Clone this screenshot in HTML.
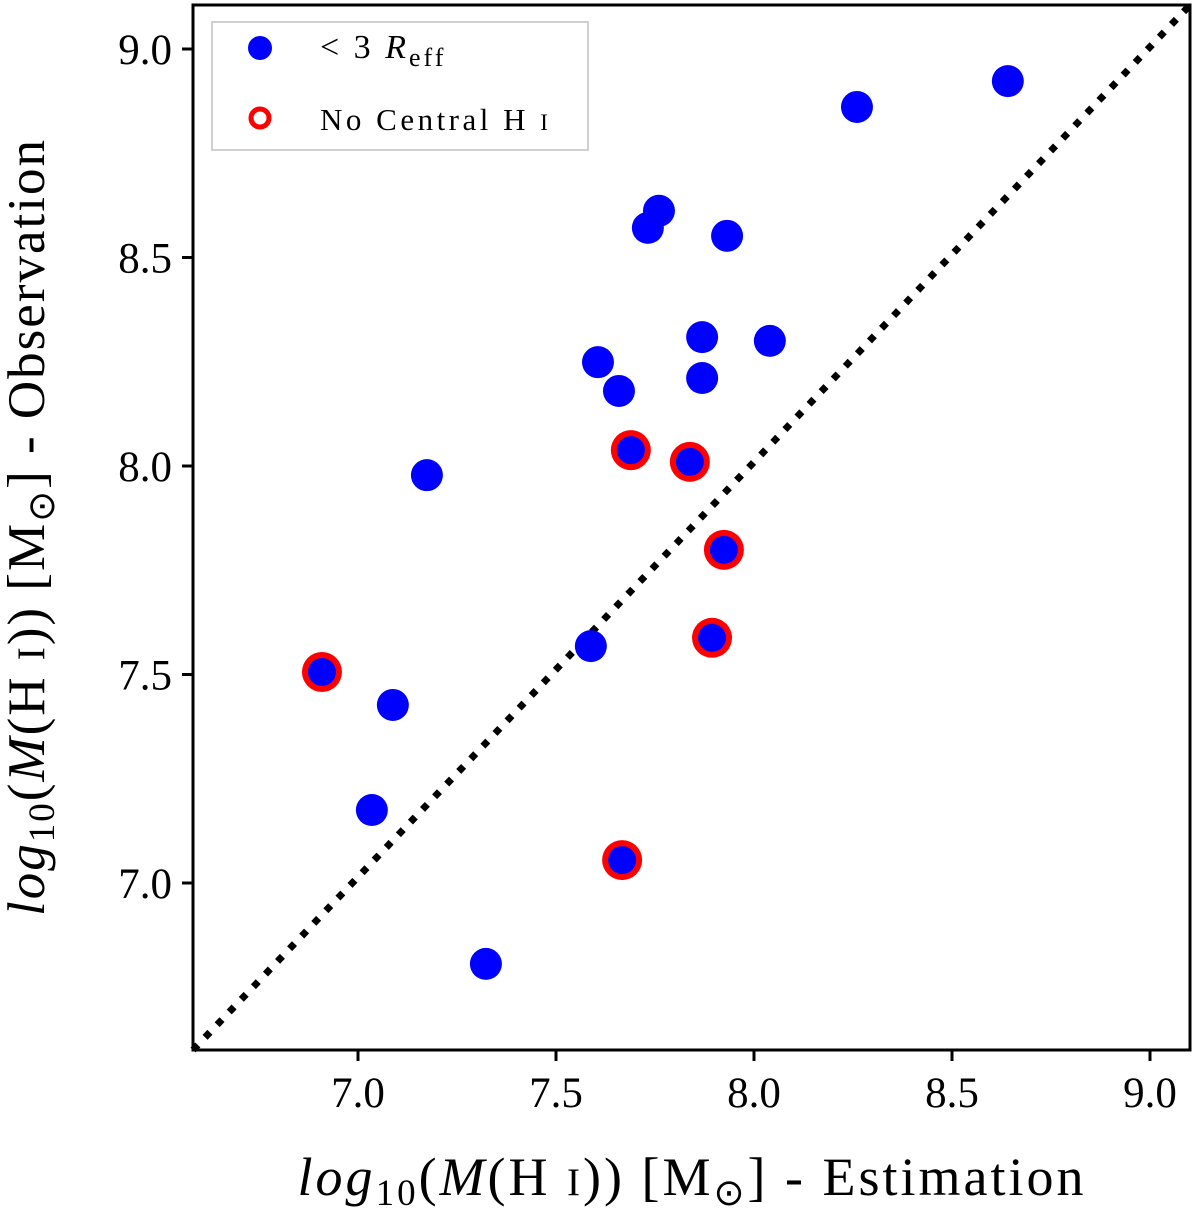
<!DOCTYPE html>
<html><head><meta charset="utf-8"><style>
body{margin:0;background:#fff}
svg{display:block;font-family:"Liberation Serif",serif}
</style></head><body>
<svg id="chart" width="1200" height="1209" viewBox="0 0 1200 1209">
<g id="ticks"></g>
<line x1="193" y1="1050" x2="1190" y2="5" stroke="#000" stroke-width="7" stroke-dasharray="7,10.5"/>
<g id="points"></g>
<rect x="193" y="5" width="997" height="1045" fill="none" stroke="#000" stroke-width="3"/>
<g>
<rect x="212" y="22" width="376" height="128" fill="#fff" stroke="#ccc" stroke-width="2" opacity="0.9"/>
<circle cx="260" cy="48" r="12" fill="#0000ff"/>
<text x="320" y="58" font-size="34" letter-spacing="3">&lt; 3 <tspan font-style="italic">R</tspan><tspan font-size="26" dy="8">eff</tspan></text>
<circle cx="260" cy="118" r="9" fill="none" stroke="#ff0000" stroke-width="5"/>
<text x="320" y="130" font-size="31" letter-spacing="3.5">No Central H <tspan font-size="23">I</tspan></text>
</g>
<text x="692" y="1195" font-size="54" letter-spacing="3" text-anchor="middle"><tspan font-style="italic">log</tspan><tspan font-size="37" dy="10">10</tspan><tspan dy="-10">(</tspan><tspan font-style="italic">M</tspan>(H <tspan font-size="39">I</tspan>)) [M<tspan font-size="37" dy="10">⊙</tspan><tspan dy="-10">] - Estimation</tspan></text>
<text transform="translate(44,527) rotate(-90)" font-size="53" letter-spacing="2" text-anchor="middle"><tspan font-style="italic">log</tspan><tspan font-size="37" dy="10">10</tspan><tspan dy="-10">(</tspan><tspan font-style="italic">M</tspan>(H <tspan font-size="39">I</tspan>)) [M<tspan font-size="37" dy="10">⊙</tspan><tspan dy="-10">] - Observation</tspan></text>
</svg>
<script>
const xTicks=[7.0,7.5,8.0,8.5,9.0];
const yTicks=[7.0,7.5,8.0,8.5,9.0];
const estX=[8.641,8.260,7.760,7.732,7.932,7.869,8.040,7.606,7.659,7.869,7.174,7.689,7.838,7.924,7.894,7.588,6.909,7.088,7.035,7.667,7.323];
const obsY=[8.923,8.861,8.612,8.571,8.552,8.309,8.300,8.249,8.180,8.211,7.978,8.038,8.010,7.799,7.588,7.568,7.506,7.427,7.175,7.055,6.806];
const noCentral=[0,0,0,0,0,0,0,0,0,0,0,1,1,1,1,0,1,0,0,1,0];
function sx(v){return 358+(v-7)*396;}
function sy(v){return 883-(v-7)*417;}
const NS="http://www.w3.org/2000/svg";
const tg=document.getElementById('ticks');
function mk(t,a){const e=document.createElementNS(NS,t);for(const k in a)e.setAttribute(k,a[k]);return e;}
xTicks.forEach(v=>{
 const l=mk('line',{x1:sx(v),x2:sx(v),y1:1050,y2:1061,stroke:'#000','stroke-width':3});
 
 
 tg.appendChild(l);
 const t=mk('text',{x:sx(v),y:1107,'font-size':43,'text-anchor':'middle'});
 t.textContent=v.toFixed(1);
 
 
 tg.appendChild(t);
});
yTicks.forEach(v=>{
 const l=mk('line',{x1:182,x2:193,y1:sy(v),y2:sy(v),stroke:'#000','stroke-width':3});
 
 
 tg.appendChild(l);
 const t=mk('text',{x:172,y:sy(v)+15,'font-size':43,'text-anchor':'end'});
 t.textContent=v.toFixed(1);
 
 
 tg.appendChild(t);
});
const pg=document.getElementById('points');
estX.forEach((x,i)=>{
 if(noCentral[i]){
  const r=mk('circle',{cx:sx(x),cy:sy(obsY[i]),r:20,fill:'#ff0000'});
  
  
  pg.appendChild(r);
 }
 const c=mk('circle',{cx:sx(x),cy:sy(obsY[i]),r:noCentral[i]?14:16,fill:'#0000ff'});
 
 
 pg.appendChild(c);
});
</script>
</body></html>
